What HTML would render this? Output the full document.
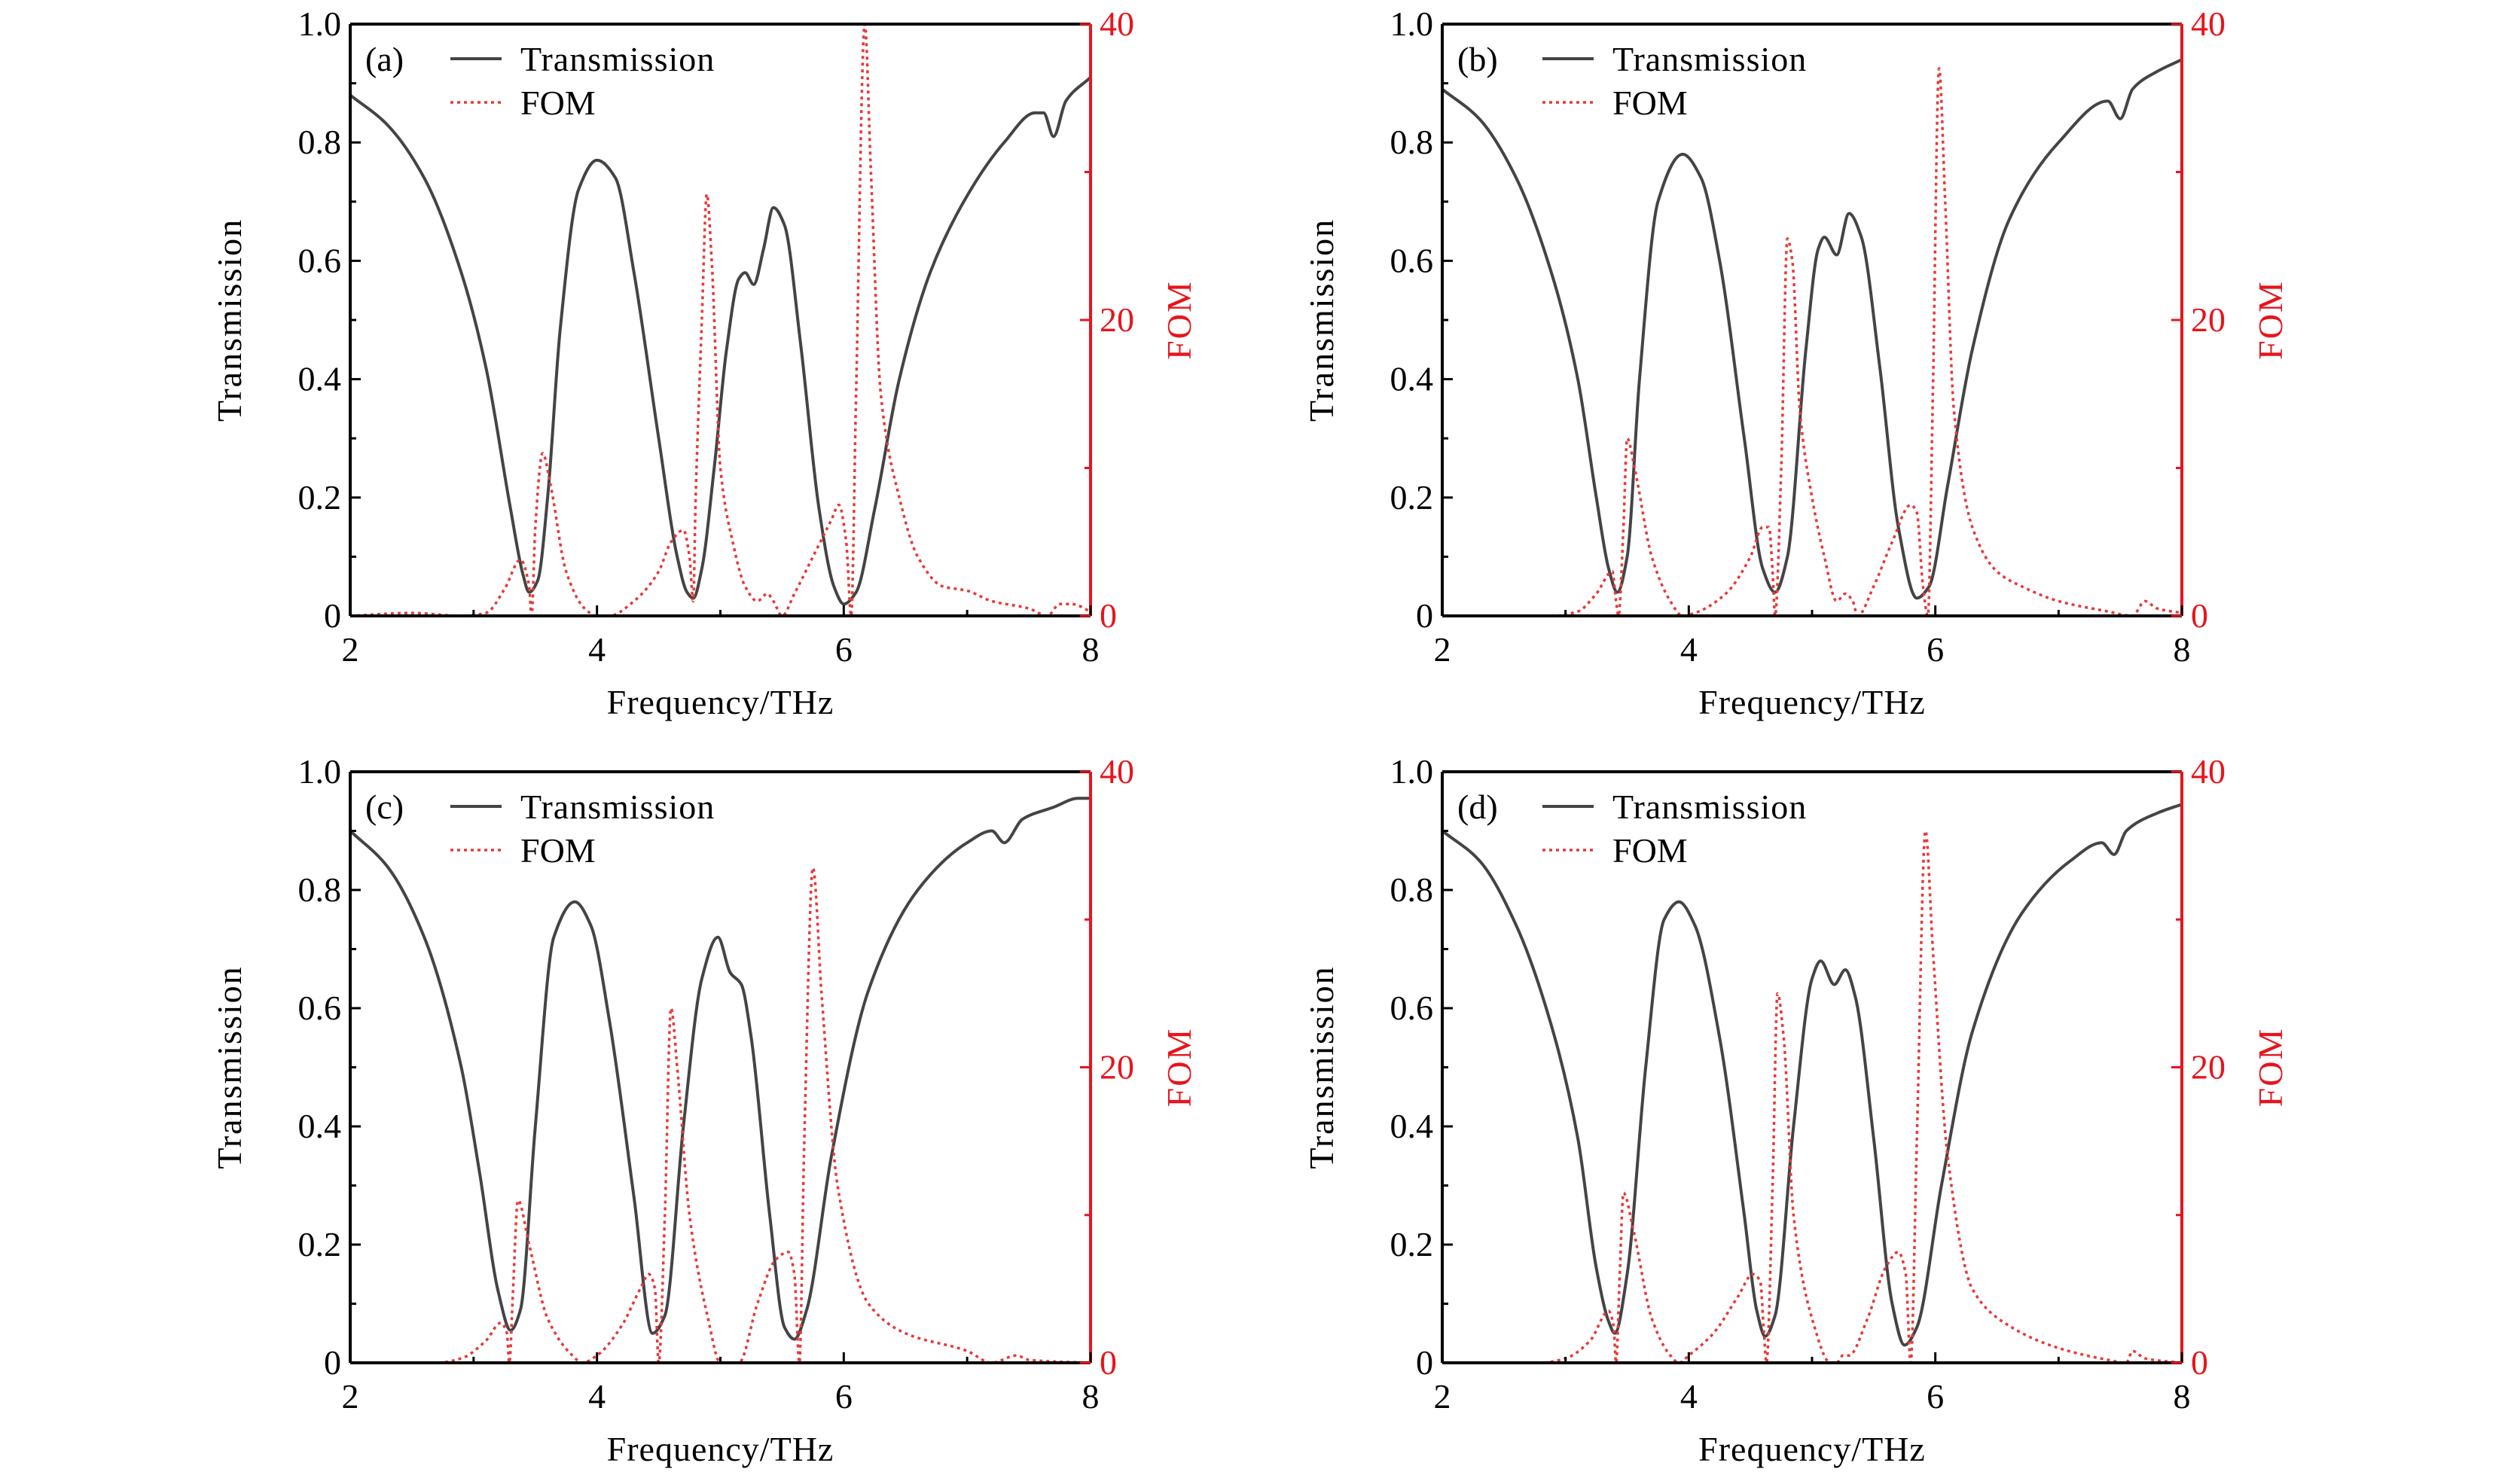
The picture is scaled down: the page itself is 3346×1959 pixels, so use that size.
<!DOCTYPE html>
<html><head><meta charset="utf-8">
<style>
html,body{margin:0;padding:0;background:#fff;}
svg{display:block;}
svg text{font-family:"Liberation Serif","DejaVu Serif",serif;}
</style></head>
<body>
<svg id="fig" width="3346" height="1959" viewBox="0 0 3346 1959" xmlns="http://www.w3.org/2000/svg" font-family="Liberation Serif, serif"></svg>
<script>
// ---- Data (frequency in THz, transmission 0-1, FOM 0-40) ----
const freqA = [2,2.3,2.6,2.9,3.1,3.3,3.4,3.45,3.52,3.6,3.7,3.85,4.0,4.15,4.3,4.5,4.65,4.73,4.78,4.85,4.95,5.05,5.15,5.2,5.27,5.35,5.43,5.52,5.65,5.8,5.92,6.0,6.1,6.25,6.45,6.7,7.0,7.3,7.55,7.62,7.7,7.8,8];
const transA = [0.88,0.83,0.74,0.58,0.42,0.18,0.07,0.04,0.06,0.2,0.48,0.72,0.77,0.74,0.58,0.3,0.1,0.04,0.03,0.08,0.25,0.45,0.57,0.58,0.56,0.62,0.69,0.66,0.46,0.18,0.05,0.02,0.04,0.18,0.4,0.58,0.71,0.8,0.85,0.85,0.81,0.87,0.91];
const fomFreqA = [2,2.5,2.9,3.1,3.25,3.38,3.45,3.47,3.5,3.56,3.62,3.75,3.9,4.0,4.1,4.3,4.5,4.6,4.7,4.75,4.78,4.8,4.85,4.89,4.93,5.0,5.1,5.2,5.3,5.38,5.43,5.5,5.6,5.75,5.9,5.96,6.02,6.06,6.1,6.17,6.22,6.3,6.45,6.6,6.8,7.0,7.2,7.5,7.65,7.75,7.85,8];
const fomA = [0,0.2,0,0.2,1.8,3.8,2,0,6,11,9,3,0.5,0,0,1,3,5,5.8,4,1,8,20,28.5,24,10,5,2,1,1.5,1,0,1.5,4,6.5,7.5,5,0,15,40,30,15,8,4,2,1.7,1,0.5,0,0.8,0.8,0.3];

const freqB = [2,2.3,2.6,2.9,3.1,3.25,3.35,3.42,3.5,3.6,3.75,3.95,4.1,4.25,4.45,4.6,4.7,4.8,4.95,5.05,5.1,5.2,5.3,5.4,5.55,5.7,5.85,5.95,6.1,6.3,6.6,7.0,7.4,7.5,7.6,7.8,8];
const transB = [0.89,0.84,0.74,0.57,0.4,0.2,0.08,0.04,0.1,0.4,0.7,0.78,0.74,0.6,0.3,0.08,0.04,0.1,0.45,0.62,0.64,0.61,0.68,0.64,0.42,0.15,0.03,0.05,0.22,0.45,0.67,0.8,0.87,0.84,0.89,0.92,0.94];
const fomFreqB = [2,2.9,3.1,3.25,3.38,3.41,3.43,3.47,3.5,3.56,3.7,3.85,3.95,4.05,4.3,4.5,4.6,4.65,4.68,4.7,4.75,4.8,4.84,4.9,5.0,5.1,5.2,5.27,5.33,5.37,5.5,5.65,5.8,5.85,5.9,5.94,5.98,6.03,6.08,6.15,6.3,6.5,6.7,7.0,7.4,7.6,7.7,7.8,8];
const fomB = [0,0,0.3,1.5,3,1,0,6,12,10,4,1,0,0.2,1.5,4,6,6,3,0,10,25.5,24,14,8,4,1,1.5,1,0,2,5,7.5,7,2,0,15,37,28,14,6,3,2,1,0.3,0,1,0.5,0.2];

const freqC = [2,2.3,2.6,2.9,3.05,3.2,3.3,3.38,3.5,3.65,3.82,3.95,4.1,4.3,4.45,4.55,4.7,4.85,4.98,5.08,5.17,5.25,5.4,5.52,5.6,5.7,5.9,6.2,6.6,7.0,7.2,7.3,7.45,7.7,7.9,8];
const transC = [0.9,0.84,0.72,0.5,0.32,0.12,0.055,0.09,0.4,0.72,0.78,0.74,0.58,0.28,0.05,0.08,0.4,0.65,0.72,0.66,0.64,0.55,0.25,0.06,0.04,0.09,0.35,0.63,0.8,0.88,0.9,0.88,0.92,0.94,0.955,0.955];
const fomFreqC = [2,2.7,2.9,3.1,3.22,3.27,3.29,3.32,3.36,3.45,3.6,3.8,3.88,4.0,4.2,4.35,4.42,4.47,4.5,4.55,4.6,4.65,4.75,4.9,5.0,5.05,5.15,5.3,5.45,5.55,5.6,5.64,5.68,5.75,5.82,5.95,6.2,6.5,7.0,7.2,7.4,7.5,8];
const fomC = [0,0,0.3,1.5,2.7,2,0,5,11,8,3,0.5,0,0.5,2.5,5,6,5,0,10,24,20,10,3,0,0,0,4,7,7.5,6,0,15,33.5,25,12,4,2,0.8,0,0.5,0.2,0];

const freqD = [2,2.3,2.6,2.9,3.1,3.25,3.35,3.4,3.5,3.65,3.8,3.92,4.05,4.25,4.45,4.55,4.62,4.7,4.85,5.0,5.07,5.18,5.27,5.35,5.5,5.65,5.75,5.85,6.05,6.3,6.7,7.1,7.35,7.45,7.55,7.8,8];
const transD = [0.9,0.85,0.74,0.56,0.38,0.16,0.07,0.05,0.15,0.5,0.75,0.78,0.74,0.55,0.25,0.09,0.045,0.08,0.4,0.65,0.68,0.64,0.665,0.62,0.38,0.1,0.03,0.06,0.3,0.56,0.76,0.85,0.88,0.86,0.9,0.93,0.945];
const fomFreqD = [2,2.8,3.0,3.2,3.35,3.39,3.41,3.44,3.47,3.55,3.7,3.85,3.92,4.0,4.2,4.4,4.52,4.58,4.61,4.63,4.68,4.72,4.77,4.85,5.0,5.15,5.2,5.25,5.3,5.45,5.6,5.7,5.76,5.8,5.85,5.92,5.98,6.1,6.3,6.6,7.0,7.4,7.55,7.6,7.7,8];
const fomD = [0,0,0.3,1.5,3.5,2.5,0,6,11.5,9,3,0.5,0,0.5,2,4.5,6,5.5,2,0,12,25,22,10,3,0,0,0.5,0.5,3,6.5,7.5,6,0,15,36,28,14,5,2.5,1,0.2,0,0.8,0.3,0];

const xTicks = [2,4,6,8];
const xMinor = [3,5,7];
const yTicks = [0,0.2,0.4,0.6,0.8,1.0];
const yTickLabels = ["0","0.2","0.4","0.6","0.8","1.0"];
const yMinor = [0.1,0.3,0.5,0.7,0.9];
const fomTicks = [0,20,40];
const fomMinor = [10,30];

const panels = [
  {id:'a', x0:465, x1:1448, y0:32, y1:818, f:freqA, t:transA, ff:fomFreqA, fo:fomA},
  {id:'b', x0:1915, x1:2897, y0:32, y1:818, f:freqB, t:transB, ff:fomFreqB, fo:fomB},
  {id:'c', x0:465, x1:1448, y0:1025, y1:1810, f:freqC, t:transC, ff:fomFreqC, fo:fomC},
  {id:'d', x0:1915, x1:2897, y0:1025, y1:1810, f:freqD, t:transD, ff:fomFreqD, fo:fomD}
];

const NS='http://www.w3.org/2000/svg';
const svg=document.getElementById('fig');
const SERIF='Liberation Serif, serif';
function el(tag,attrs,parent,text){
  const e=document.createElementNS(NS,tag);
  for(const k in attrs) e.setAttribute(k,attrs[k]);
  if(tag==='text') e.setAttribute('font-family',SERIF);
  if(text!==undefined) e.textContent=text;
  (parent||svg).appendChild(e);
  return e;
}
// monotone cubic (Fritsch-Carlson) path through pixel points
function smoothPath(X,Y){
  const n=X.length, dx=[], m=[], t=new Array(n);
  for(let i=0;i<n-1;i++){dx.push(X[i+1]-X[i]); m.push((Y[i+1]-Y[i])/(X[i+1]-X[i]));}
  t[0]=m[0]; t[n-1]=m[n-2];
  for(let i=1;i<n-1;i++){ t[i]=(m[i-1]*m[i]<=0)?0:(3*(dx[i-1]+dx[i]))/((2*dx[i]+dx[i-1])/m[i-1]+(dx[i]+2*dx[i-1])/m[i]); }
  let d='M'+X[0].toFixed(1)+','+Y[0].toFixed(1);
  for(let i=0;i<n-1;i++){
    const h=dx[i]/3;
    d+='C'+(X[i]+h).toFixed(1)+','+(Y[i]+t[i]*h).toFixed(1)+' '+(X[i+1]-h).toFixed(1)+','+(Y[i+1]-t[i+1]*h).toFixed(1)+' '+X[i+1].toFixed(1)+','+Y[i+1].toFixed(1);
  }
  return d;
}
const RED='#e8141c', FOMC='#e53a3a', DARK='#444';

panels.forEach(p=>{
  const g=el('g',{});
  
  
  const sx=v=>p.x0+(v-2)/6*(p.x1-p.x0);
  const sy=v=>p.y1-v*(p.y1-p.y0);
  const sf=v=>p.y1-v/40*(p.y1-p.y0);
  const tl=el('path',{d:smoothPath(p.f.map(sx),p.t.map(sy)),fill:'none',stroke:DARK,'stroke-width':4,'stroke-linejoin':'round'},g);
  
  
  const fl=el('path',{d:smoothPath(p.ff.map(sx),p.fo.map(sf)),fill:'none',stroke:FOMC,'stroke-width':3.5,'stroke-dasharray':'4 5'},g);
  
  
  // frame
  el('line',{x1:p.x0,y1:p.y0,x2:p.x1,y2:p.y0,stroke:'#000','stroke-width':4},g);
  el('line',{x1:p.x0,y1:p.y1,x2:p.x1,y2:p.y1,stroke:'#000','stroke-width':4},g);
  el('line',{x1:p.x0,y1:p.y0,x2:p.x0,y2:p.y1,stroke:'#000','stroke-width':4},g);
  el('line',{x1:p.x1,y1:p.y0,x2:p.x1,y2:p.y1,stroke:RED,'stroke-width':4},g);
  xTicks.forEach(v=>{
    el('line',{x1:sx(v),y1:p.y1,x2:sx(v),y2:p.y1-14,stroke:'#000','stroke-width':3},g);
    const t=el('text',{x:sx(v),y:p.y1+60,'text-anchor':'middle','font-size':46},g,String(v));
    
    
  });
  xMinor.forEach(v=>el('line',{x1:sx(v),y1:p.y1,x2:sx(v),y2:p.y1-8,stroke:'#000','stroke-width':3},g));
  yTicks.forEach((v,i)=>{
    el('line',{x1:p.x0,y1:sy(v),x2:p.x0+14,y2:sy(v),stroke:'#000','stroke-width':3},g);
    const t=el('text',{x:p.x0-12,y:sy(v)+15,'text-anchor':'end','font-size':46},g,yTickLabels[i]);
    
    
  });
  yMinor.forEach(v=>el('line',{x1:p.x0,y1:sy(v),x2:p.x0+8,y2:sy(v),stroke:'#000','stroke-width':3},g));
  fomTicks.forEach(v=>{
    el('line',{x1:p.x1,y1:sf(v),x2:p.x1-14,y2:sf(v),stroke:RED,'stroke-width':3},g);
    const t=el('text',{x:p.x1+12,y:sf(v)+15,'text-anchor':'start','font-size':46,fill:RED},g,String(v));
    
    
  });
  fomMinor.forEach(v=>el('line',{x1:p.x1,y1:sf(v),x2:p.x1-8,y2:sf(v),stroke:RED,'stroke-width':3},g));
  const cy=(p.y0+p.y1)/2, cx=(p.x0+p.x1)/2;
  const yt=el('text',{x:0,y:0,'text-anchor':'middle','font-size':46,'letter-spacing':2,transform:`translate(${p.x0-145},${cy}) rotate(-90)`},g,'Transmission');
  
  
  const ft=el('text',{x:0,y:0,'text-anchor':'middle','font-size':46,fill:RED,'letter-spacing':2,transform:`translate(${p.x1+133},${cy}) rotate(-90)`},g,'FOM');
  
  
  const xt=el('text',{x:cx,y:p.y1+130,'text-anchor':'middle','font-size':46,'letter-spacing':1},g,'Frequency/THz');
  
  
  const lg=el('g',{},g);
  
  
  el('text',{x:p.x0+20,y:p.y0+62,'font-size':46},lg,'('+p.id+')');
  el('line',{x1:p.x0+133,y1:p.y0+46,x2:p.x0+201,y2:p.y0+46,stroke:DARK,'stroke-width':4},lg);
  el('text',{x:p.x0+226,y:p.y0+62,'font-size':46,'letter-spacing':1},lg,'Transmission');
  el('line',{x1:p.x0+133,y1:p.y0+104,x2:p.x0+201,y2:p.y0+104,stroke:FOMC,'stroke-width':3.5,'stroke-dasharray':'4 5'},lg);
  el('text',{x:p.x0+226,y:p.y0+120,'font-size':46},lg,'FOM');
});
</script>
</body></html>
